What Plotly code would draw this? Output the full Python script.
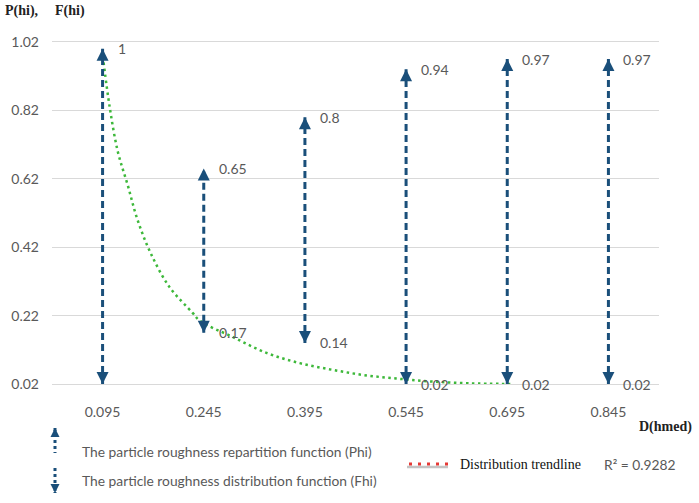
import plotly.graph_objects as go

# Category labels on the x axis (D(hmed))
categories = ['0.095', '0.245', '0.395', '0.545', '0.695', '0.845']

# Phi (top of each arrow) and Fhi (bottom of each arrow)
phi_values = [1, 0.65, 0.8, 0.94, 0.97, 0.97]
fhi_values = [0.02, 0.17, 0.14, 0.02, 0.02, 0.02]
fhi_labelled = [False, True, True, True, True, True]

# Distribution trendline (x in category positions)
trend_x = [0.01, 0.07, 0.15, 0.25, 0.34, 0.47, 0.66, 0.89, 0.96, 1.29, 1.62,
           1.95, 2.28, 2.61, 2.94, 3.27, 3.63, 4.03]
trend_y = [0.96, 0.83, 0.70, 0.60, 0.505, 0.406, 0.304, 0.228, 0.205, 0.157,
           0.111, 0.081, 0.061, 0.045, 0.035, 0.027, 0.022, 0.02]

y_ticks = [0.02, 0.22, 0.42, 0.62, 0.82, 1.02]

ARROW = '#1A4F7A'
GREEN = '#3DB83A'
GREY = '#595959'
TICKFONT = dict(family='Lato', size=14, color=GREY)

W, H = 699, 503
L, R, T, B = 52, 40, 42, 119


def px(x, y):
    # pixel position in the window -> paper coordinates
    return (x - L) / (W - L - R), (H - B - y) / (H - T - B)


def head(x, y, xref, yref, up, size=0.8, width=3):
    # arrow head only: a very short arrow whose tail hides under the dashed line
    return dict(x=x, y=y, xref=xref, yref=yref, axref='pixel', ayref='pixel',
                ax=0, ay=5 if up else -5, text='', showarrow=True,
                arrowhead=2, arrowsize=size, arrowwidth=width, arrowcolor=ARROW)


def note(x, y, text, font, xanchor='left'):
    px_x, px_y = px(x, y)
    return dict(x=px_x, y=px_y, xref='paper', yref='paper', xanchor=xanchor,
                yanchor='middle', text=text, showarrow=False, font=font)


fig = go.Figure()

# trendline
fig.add_trace(go.Scatter(
    x=trend_x, y=trend_y, mode='lines', line_shape='spline',
    line=dict(color=GREEN, width=2.5, dash='2.5px,3.5px'),
    hoverinfo='skip', showlegend=False, cliponaxis=False
))

annotations = []
for i, cat in enumerate(categories):
    fig.add_trace(go.Scatter(
        x=[i, i], y=[fhi_values[i], phi_values[i]], mode='lines',
        line=dict(color=ARROW, width=3, dash='7px,4px'),
        showlegend=False, cliponaxis=False
    ))
    annotations.append(head(i, phi_values[i], 'x', 'y', True))
    annotations.append(head(i, fhi_values[i], 'x', 'y', False))
    # data labels
    annotations.append(dict(x=i, y=phi_values[i], text=f'{phi_values[i]:g}',
                            xanchor='left', yanchor='middle', xshift=13,
                            showarrow=False, font=TICKFONT))
    if fhi_labelled[i]:
        annotations.append(dict(x=i, y=fhi_values[i], text=f'{fhi_values[i]:g}',
                                xanchor='left', yanchor='middle', xshift=13,
                                showarrow=False, font=TICKFONT))

# axis titles
title_font = dict(family='Liberation Serif', size=14, color='#222')
annotations.append(note(3, 11, '<b>P(hi),</b>', title_font))
annotations.append(note(53, 11, '<b>F(hi)</b>', title_font))
annotations.append(note(694, 427, '<b>D(hmed)</b>', title_font, 'right'))

# custom legend
legend_font = dict(family='Lato', size=13.8, color=GREY)
shapes = []
for (ya, yb, head_top, label_y, label) in [
        (428, 453, True, 452, 'The particle roughness repartition function (Phi)'),
        (468, 493, False, 480, 'The particle roughness distribution function (Fhi)')]:
    xa, pya = px(55, ya)
    _, pyb = px(55, yb)
    shapes.append(dict(type='line', xref='paper', yref='paper', x0=xa, x1=xa,
                       y0=pya, y1=pyb, line=dict(color=ARROW, width=3, dash='3px,3px')))
    annotations.append(head(xa, pya if head_top else pyb, 'paper', 'paper',
                            head_top, size=0.6, width=3))
    annotations.append(note(80, label_y, label, legend_font))

sx0, sy = px(407, 467)
sx1, _ = px(448, 467)
shapes.append(dict(type='line', xref='paper', yref='paper', x0=sx0, x1=sx1, y0=sy, y1=sy,
                   line=dict(color='#c4c4c4', width=2.5)))
sx0, sy = px(409, 464)
sx1, _ = px(448, 464)
shapes.append(dict(type='line', xref='paper', yref='paper', x0=sx0, x1=sx1, y0=sy, y1=sy,
                   line=dict(color='#e53935', width=3, dash='3px,6px')))
annotations.append(note(458, 464, 'Distribution trendline',
                        dict(family='Liberation Serif', size=14, color='#111')))
annotations.append(note(602, 464, 'R² = 0.9282', legend_font))

fig.update_layout(
    width=W, height=H,
    margin=dict(l=L, r=R, t=T, b=B),
    plot_bgcolor='white', paper_bgcolor='white',
    showlegend=False,
    annotations=annotations,
    shapes=shapes,
    xaxis=dict(range=[-0.5, 5.5], tickvals=list(range(len(categories))),
               ticktext=categories, showgrid=False, zeroline=False,
               showline=True, mirror=True, linecolor='#d9d9d9', linewidth=1,
               ticks='', ticklabelstandoff=15, tickfont=TICKFONT, automargin=False),
    yaxis=dict(range=[0.02, 1.02], tickvals=y_ticks, ticktext=[f'{v:.2f}' for v in y_ticks],
               showgrid=True, gridcolor='#d9d9d9', gridwidth=1, zeroline=False,
               ticks='', ticklabelstandoff=12, tickfont=TICKFONT, automargin=False),
)

# drop the default body margin so the figure sits at the window's corner
fig.write_html('out.html', config={'displayModeBar': False},
               post_script="document.body.style.margin='0px';")
